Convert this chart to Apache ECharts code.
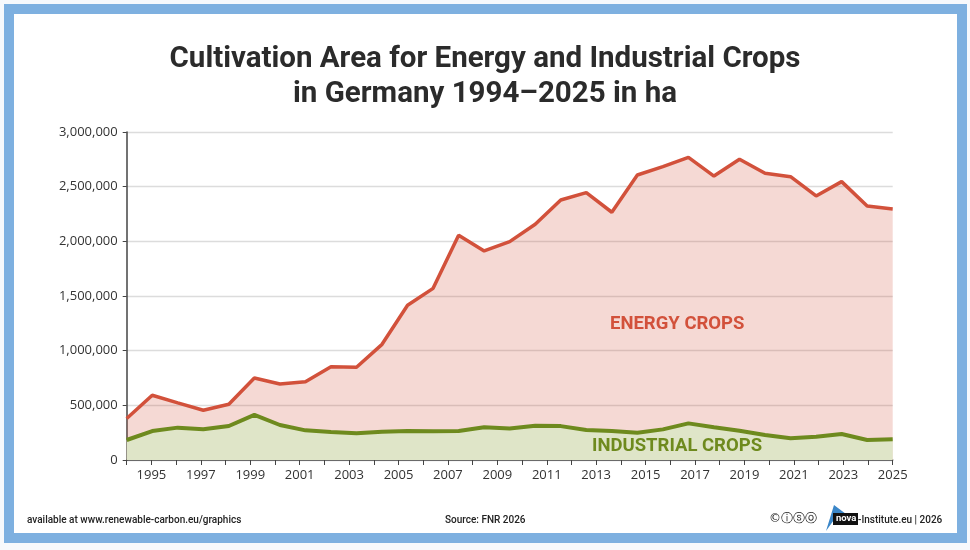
<!DOCTYPE html>
<html>
<head>
<meta charset="utf-8">
<script src="https://cdn.jsdelivr.net/npm/echarts@6/dist/echarts.min.js"></script>
<style>
  html, body { margin: 0; padding: 0; background: #f7f9fc; }
  #chart { width: 970px; height: 550px; }
</style>
</head>
<body>
<div id="chart"></div>
<script>
// tick years shown on the axis
const axisYears = [];
for (let y = 1994; y <= 2025; y++) axisYears.push(String(y));

// the plotted points (31 of them, spread over the full axis width)
const pointLabels = ['p1','p2','p3','p4','p5','p6','p7','p8','p9','p10','p11','p12','p13','p14','p15','p16',
    'p17','p18','p19','p20','p21','p22','p23','p24','p25','p26','p27','p28','p29','p30','p31'];

const energyCrops = [380000, 592000, 522000, 455000, 510000, 750000, 695000, 716000, 852000, 848000,
    1058000, 1415000, 1570000, 2055000, 1912000, 1997000, 2156000, 2378000, 2445000, 2266000,
    2607000, 2683000, 2768000, 2597000, 2750000, 2622000, 2591000, 2415000, 2546000, 2323000, 2296000];

const industrialCrops = [183000, 265000, 296000, 282000, 311000, 412000, 320000, 271000, 256000, 244000,
    259000, 265000, 262000, 265000, 299000, 288000, 313000, 310000, 274000, 265000,
    250000, 280000, 335000, 299000, 268000, 229000, 198000, 213000, 238000, 183000, 189000];

const yTicks = [0, 500000, 1000000, 1500000, 2000000, 2500000, 3000000];

const chart = echarts.init(document.getElementById('chart'));

const option = {
    backgroundColor: '#f7f9fc',
    animation: false,
    title: {
        text: 'Cultivation Area for Energy and Industrial Crops\nin Germany 1994\u20132025 in ha',
        left: 'center',
        top: 37,
        textStyle: {
            fontFamily: 'Roboto',
            fontWeight: 'bold',
            fontSize: 29.5,
            lineHeight: 35,
            color: '#2b2b2b'
        }
    },
    grid: { left: 126.7, right: 77.3, top: 132, bottom: 90 },
    xAxis: [
        {
            type: 'category',
            data: pointLabels,
            boundaryGap: false,
            show: false
        },
        {
            type: 'category',
            data: axisYears,
            boundaryGap: false,
            position: 'bottom',
            axisLine: { lineStyle: { color: '#444', width: 1.5 } },
            axisTick: { show: true, length: 5, interval: 0, lineStyle: { color: '#444' } },
            axisLabel: {
                interval: (i) => i % 2 === 1,
                color: '#333',
                fontFamily: 'Open Sans',
                fontSize: 13,
                margin: 9
            },
            splitLine: { show: false }
        }
    ],
    yAxis: {
        type: 'value',
        min: yTicks[0],
        max: yTicks[yTicks.length - 1],
        interval: 500000,
        axisLine: { show: true, lineStyle: { color: '#444', width: 1.5 } },
        axisTick: { show: true, length: 4, lineStyle: { color: '#444' } },
        axisLabel: {
            color: '#333',
            fontFamily: 'Open Sans',
            fontSize: 13,
            margin: 9,
            formatter: v => v.toLocaleString('en-US')
        },
        splitLine: { lineStyle: { color: '#dcdcdc', width: 1.3 } }
    },
    series: [
        {
            name: 'Energy crops',
            type: 'line',
            xAxisIndex: 0,
            data: energyCrops,
            symbol: 'none',
            lineStyle: { color: '#d2513b', width: 3.5 },
            areaStyle: { color: 'rgba(210,80,60,0.22)', opacity: 1 },
            z: 2
        },
        {
            name: 'Industrial crops',
            type: 'line',
            xAxisIndex: 0,
            data: industrialCrops,
            symbol: 'none',
            lineStyle: { color: '#6e8a1e', width: 4 },
            areaStyle: { color: '#dfe5c8', opacity: 1 },
            z: 3
        }
    ],
    graphic: [
        // blue frame
        {
            type: 'rect', z: -10,
            shape: { x: 4, y: 4, width: 963, height: 539 },
            style: { fill: '#7eb0e0' }
        },
        {
            type: 'rect', z: -9,
            shape: { x: 14, y: 14, width: 943, height: 519 },
            style: { fill: '#ffffff' }
        },
        {
            type: 'text', z: 10, left: 610, top: 315,
            style: { text: 'ENERGY CROPS', fill: '#d2513b', font: 'bold 18.5px Roboto' }
        },
        {
            type: 'text', z: 10, left: 592, top: 437,
            style: { text: 'INDUSTRIAL CROPS', fill: '#6e8a1e', font: 'bold 18.5px Roboto' }
        },
        // footer
        {
            type: 'text', left: 27, top: 515,
            style: { text: 'available at www.renewable-carbon.eu/graphics', fill: '#222', font: '500 10px Roboto' }
        },
        {
            type: 'text', left: 445, top: 515,
            style: { text: 'Source: FNR 2026', fill: '#222', font: '500 10px Roboto' }
        },
        {
            type: 'text', left: 769, top: 513,
            style: { text: '\u00a9\u24d8\u24e2\u24de', fill: '#222', font: '12px "DejaVu Sans"' }
        },
        {
            type: 'polygon',
            shape: { points: [[826, 531], [834, 505], [846, 514], [836, 517]] },
            style: { fill: '#3a86c8' }
        },
        {
            type: 'rect',
            shape: { x: 833, y: 513, width: 25, height: 12 },
            style: { fill: '#111' }
        },
        {
            type: 'text', left: 836, top: 514,
            style: { text: 'nova', fill: '#fff', font: 'bold 9.5px Roboto' }
        },
        {
            type: 'text', left: 858, top: 515,
            style: { text: '-Institute.eu | 2026', fill: '#222', font: '500 10px Roboto' }
        }
    ]
};

chart.setOption(option);
</script>
</body>
</html>
